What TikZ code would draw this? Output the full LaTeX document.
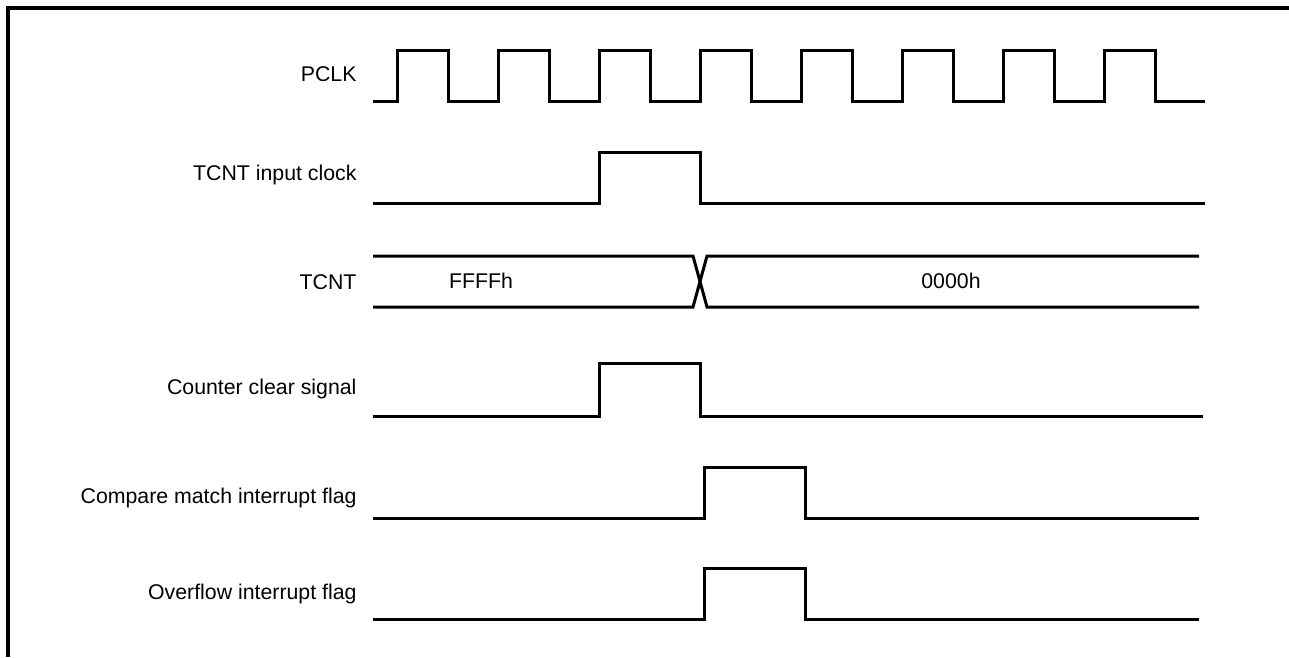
\documentclass[tikz,border=0pt]{standalone}
\usepackage{fontspec}
\setmainfont{Liberation Sans}
\usepackage{tikz}

\begin{document}
\begin{tikzpicture}[
    x=1pt, y=-1pt, % One unit per pixel, y grows downwards
    line width=3pt, % Line thickness for the waveforms
    line join=miter,
    font=\fontsize{21.3}{26}\selectfont
]
\useasboundingbox (0,0) rectangle (1289,657);

% Define the frame
\draw[line width=4pt] (8,657) -- (8,8) -- (1289,8);

% Define the signal names
\node[anchor=base east, inner sep=0pt] (pclk) at (358, 81) {PCLK};
\node[anchor=base east, inner sep=0pt] (inclk) at (358, 180) {TCNT input clock};
\node[anchor=base east, inner sep=0pt] (tcnt) at (358, 289) {TCNT};
\node[anchor=base east, inner sep=0pt] (clr) at (358, 394) {Counter clear signal};
\node[anchor=base east, inner sep=0pt] (cmf) at (358, 503) {Compare match interrupt flag};
\node[anchor=base east, inner sep=0pt] (ovf) at (358, 599) {Overflow interrupt flag};

% Define the counter values
\node[anchor=base, inner sep=0pt] (ffff) at (481, 288) {FFFFh};
\node[anchor=base, inner sep=0pt] (zero) at (951, 288) {0000h};

% Draw the waveforms
\draw (373,101) -- (397,101) -- (397,50) -- (448,50) -- (448,101)
  -- (498,101) -- (498,50) -- (549,50) -- (549,101)
  -- (599,101) -- (599,50) -- (650,50) -- (650,101)
  -- (700,101) -- (700,50) -- (751,50) -- (751,101)
  -- (801,101) -- (801,50) -- (852,50) -- (852,101)
  -- (902,101) -- (902,50) -- (953,50) -- (953,101)
  -- (1003,101) -- (1003,50) -- (1054,50) -- (1054,101)
  -- (1104,101) -- (1104,50) -- (1155,50) -- (1155,101) -- (1205,101);
\draw (373,203) -- (599,203) -- (599,152) -- (700,152) -- (700,203) -- (1205,203);
\draw (373,256) -- (693,256) -- (707,307) -- (1199,307);
\draw (373,307) -- (693,307) -- (707,256) -- (1199,256);
\draw (373,416) -- (599,416) -- (599,363) -- (700,363) -- (700,416) -- (1203,416);
\draw (373,518) -- (704,518) -- (704,467) -- (805,467) -- (805,518) -- (1199,518);
\draw (373,619) -- (704,619) -- (704,568) -- (805,568) -- (805,619) -- (1199,619);

\end{tikzpicture}
\end{document}
